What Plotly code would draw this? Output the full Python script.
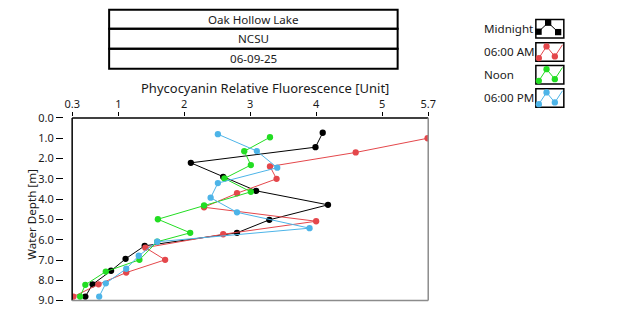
import plotly.graph_objects as go

# Phycocyanin relative fluorescence profiles, Oak Hollow Lake, 06-09-25
series_names = ["Midnight", "06:00 AM", "Noon", "06:00 PM"]
series_colors = ["#000000", "#e4474b", "#22dd22", "#4db4e8"]

depth_midnight = [0.73, 1.44, 2.21, 2.90, 3.59, 4.28, 5.02, 5.66, 6.30, 6.94, 7.53, 8.20, 8.80]
fluor_midnight = [4.10, 3.99, 2.10, 2.59, 3.09, 4.18, 3.29, 2.80, 1.40, 1.11, 0.89, 0.61, 0.50]

depth_0600am = [1.00, 1.70, 2.39, 3.00, 3.71, 4.40, 5.09, 5.73, 6.39, 6.99, 7.62, 8.20, 8.80]
fluor_0600am = [5.69, 4.60, 3.30, 3.40, 2.80, 2.30, 4.00, 2.59, 1.41, 1.71, 1.12, 0.70, 0.32]

depth_noon = [0.95, 1.64, 2.32, 2.98, 3.64, 4.31, 4.99, 5.66, 6.10, 6.99, 7.57, 8.22, 8.80]
fluor_noon = [3.30, 2.91, 3.01, 2.61, 3.01, 2.30, 1.60, 2.09, 1.59, 1.32, 0.81, 0.50, 0.42]

depth_0600pm = [0.80, 1.63, 2.45, 3.21, 3.93, 4.65, 5.43, 6.10, 6.79, 7.43, 8.15, 8.80]
fluor_0600pm = [2.51, 3.10, 3.41, 2.51, 2.40, 2.80, 3.90, 1.59, 1.31, 1.12, 0.81, 0.71]

x_tick_vals = [0.3, 1, 2, 3, 4, 5, 5.7]
x_tick_text = ["0.3", "1", "2", "3", "4", "5", "5.7"]
y_tick_vals = [0, 1, 2, 3, 4, 5, 6, 7, 8, 9]

title_lines = ["Oak Hollow Lake", "NCSU", "06-09-25"]
x_title = "Phycocyanin Relative Fluorescence [Unit]"
y_title = "Water Depth [m]"

# Layout positions below are given in view pixels (620x324 view).
# The page adds an 8px body margin and the view shows a 636x340 region,
# so view pixels are converted to figure pixels before going to paper units.
W, H = 620, 324
OFF = 8
SX, SY = (W + 2 * OFF) / W, (H + 2 * OFF) / H
FONT = "Noto Sans, Open Sans, sans-serif"
TXT = "#1a1a1a"
FS = 11.6
TICK_FS = 11


def px(x):
    return (x * SX - OFF) / W


def py(y):
    return 1 - (y * SY - OFF) / H


# plot frame in view pixels
L, R, T, B = 72, 428.3, 117.5, 300

series = [
    (depth_midnight, fluor_midnight),
    (depth_0600am, fluor_0600am),
    (depth_noon, fluor_noon),
    (depth_0600pm, fluor_0600pm),
]

fig = go.Figure()
for name, color, (d, f) in zip(series_names, series_colors, series):
    fig.add_trace(go.Scatter(
        x=f, y=d, name=name, mode="lines+markers",
        line=dict(color=color, width=1),
        marker=dict(color=color, size=6.3, symbol="circle"),
        showlegend=False, xaxis="x", yaxis="y",
    ))

shapes = []
annotations = []

# frame: dark on left/top, grey on right/bottom
shapes.append(dict(type="line", xref="paper", yref="paper", x0=px(L), x1=px(L), y0=py(T), y1=py(B),
                   line=dict(color="#000000", width=1.5)))
shapes.append(dict(type="line", xref="paper", yref="paper", x0=px(L), x1=px(R), y0=py(T), y1=py(T),
                   line=dict(color="#000000", width=1.5)))
shapes.append(dict(type="line", xref="paper", yref="paper", x0=px(R), x1=px(R), y0=py(T), y1=py(B),
                   line=dict(color="#8c8c8c", width=1.5)))
shapes.append(dict(type="line", xref="paper", yref="paper", x0=px(L), x1=px(R), y0=py(B), y1=py(B),
                   line=dict(color="#8c8c8c", width=1.5)))

# stacked title boxes
box_x0, box_x1 = 109, 397.7
row_edges = [9.3, 28.3, 48.3, 68.3]
for i, txt in enumerate(title_lines):
    y0, y1 = row_edges[i], row_edges[i + 1]
    shapes.append(dict(type="rect", xref="paper", yref="paper", x0=px(box_x0), x1=px(box_x1),
                       y0=py(y0), y1=py(y1), line=dict(color="#000000", width=2),
                       fillcolor="rgba(0,0,0,0)"))
    annotations.append(dict(text=txt, xref="paper", yref="paper", x=px((box_x0 + box_x1) / 2),
                            y=py((y0 + y1) / 2), showarrow=False, xanchor="center", yanchor="middle",
                            font=dict(family=FONT, size=FS, color=TXT)))

# axis titles
annotations.append(dict(text=x_title, xref="paper", yref="paper", x=px(265), y=py(88),
                        showarrow=False, xanchor="center", yanchor="middle",
                        font=dict(family=FONT, size=13, color=TXT)))
annotations.append(dict(text=y_title, xref="paper", yref="paper", x=px(31), y=py(214),
                        showarrow=False, xanchor="center", yanchor="middle", textangle=-90,
                        font=dict(family=FONT, size=FS, color=TXT)))

# custom legend: label on the left, boxed glyph on the right
leg_label_x = 482
leg_rows = [(27.7, 19.0), (51.0, 42.3), (74.0, 65.0), (96.7, 88.3)]
glyph_w, glyph_h = 28, 18.5
glyph_x0 = 536
peak_shape = [(2.7, 12.3), (12.3, 3.3), (22.3, 12.7)]
wave_shape = [(3, 15.4), (10.7, 3.7), (19, 13.7), (26.7, 2)]
for i, (name, color) in enumerate(zip(series_names, series_colors)):
    cy, top = leg_rows[i]
    annotations.append(dict(text=name, xref="paper", yref="paper", x=px(leg_label_x), y=py(cy),
                            showarrow=False, xanchor="left", yanchor="middle",
                            font=dict(family=FONT, size=FS, color=TXT)))
    shapes.append(dict(type="rect", xref="paper", yref="paper", x0=px(glyph_x0), x1=px(glyph_x0 + glyph_w),
                       y0=py(top), y1=py(top + glyph_h), line=dict(color="#000000", width=1.5),
                       fillcolor="white", layer="below"))
    pts = peak_shape if i == 0 else wave_shape
    gx = [glyph_x0 + p[0] for p in pts]
    gy = [top + p[1] for p in pts]
    fig.add_trace(go.Scatter(
        x=gx, y=gy, mode="lines", line=dict(color=color, width=1),
        showlegend=False, hoverinfo="skip", xaxis="x2", yaxis="y2", cliponaxis=False,
    ))
    mk = gx if i == 0 else gx[:3]
    mky = gy if i == 0 else gy[:3]
    fig.add_trace(go.Scatter(
        x=mk, y=mky, mode="markers",
        marker=dict(color=color, size=6.3, symbol="square" if i == 0 else "circle"),
        showlegend=False, hoverinfo="skip", xaxis="x2", yaxis="y2", cliponaxis=False,
    ))

fig.update_layout(
    width=W, height=H, autosize=False,
    margin=dict(l=0, r=0, t=0, b=0, pad=0),
    paper_bgcolor="white", plot_bgcolor="rgba(0,0,0,0)",
    font=dict(family=FONT, size=FS, color=TXT),
    xaxis=dict(
        domain=[px(L), px(R)], range=[0.3, 5.7], side="top",
        anchor="free", position=py(116),
        tickvals=x_tick_vals, ticktext=x_tick_text,
        ticks="outside", ticklen=4.2, tickcolor="#000000", tickwidth=1,
        showline=False, showgrid=False, zeroline=False,
        tickfont=dict(family=FONT, size=TICK_FS, color=TXT),
    ),
    yaxis=dict(
        domain=[py(B), py(T)], range=[9, 0],
        anchor="free", position=px(63),
        tickvals=y_tick_vals, tickformat=".1f",
        ticks="outside", ticklen=7.2, tickcolor="#000000", tickwidth=1,
        showline=False, showgrid=False, zeroline=False,
        tickfont=dict(family=FONT, size=TICK_FS, color=TXT),
    ),
    xaxis2=dict(domain=[0, 1], range=[OFF / SX, (W + OFF) / SX], anchor="y2",
                visible=False, fixedrange=True),
    yaxis2=dict(domain=[0, 1], range=[(H + OFF) / SY, OFF / SY], anchor="x2",
                visible=False, fixedrange=True),
    shapes=shapes,
    annotations=annotations,
    showlegend=False,
)

fig.write_html("out.html")
